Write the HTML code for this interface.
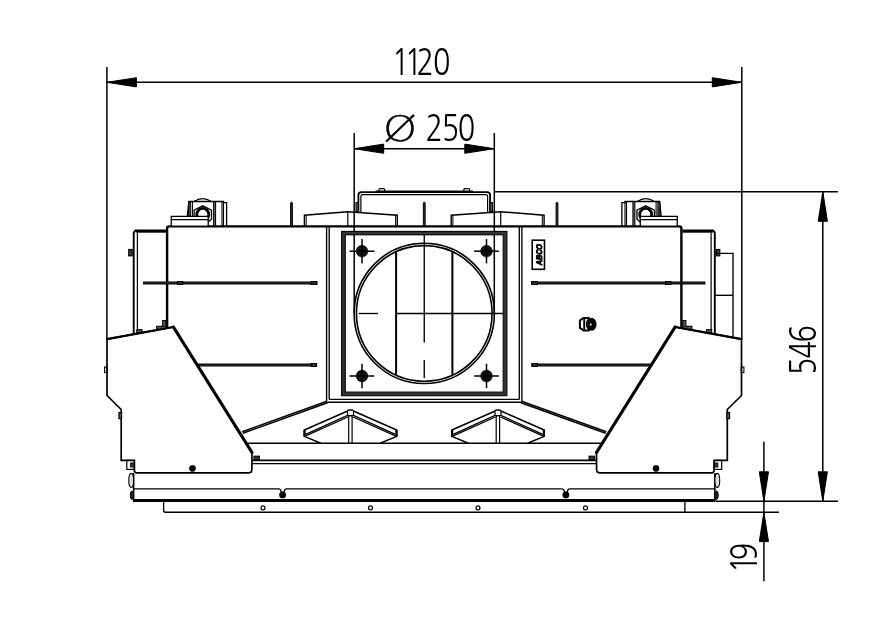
<!DOCTYPE html>
<html lang="en">
<head>
<meta charset="utf-8">
<title>Dimension drawing 1120 x 546</title>
<style>
html,body{margin:0;padding:0;background:#fff;}
body{width:881px;height:620px;overflow:hidden;font-family:"Liberation Sans",sans-serif;}
svg{display:block;filter:grayscale(1);}
svg line, svg path, svg rect, svg circle, svg ellipse{stroke:#000;}
</style>
</head>
<body>
<svg width="881" height="620" viewBox="0 0 881 620" fill="none">
<rect x="0" y="0" width="881" height="620" fill="#fff" style="stroke:none"/>
<g id="dims">
<line x1="106.9" y1="67" x2="106.9" y2="339" stroke-width="1.5" />
<line x1="741.8" y1="67" x2="741.8" y2="339" stroke-width="1.5" />
<line x1="106.9" y1="82.3" x2="741.8" y2="82.3" stroke-width="1.5" />
<path d="M106.9 82.3 L136.4 86.9 L136.4 77.7 Z" fill="#000" stroke="none"/>
<path d="M741.8 82.3 L712.3 77.7 L712.3 86.9 Z" fill="#000" stroke="none"/>
<line x1="354.2" y1="133" x2="354.2" y2="313.5" stroke-width="1.5" />
<line x1="494.3" y1="133" x2="494.3" y2="313.5" stroke-width="1.5" />
<line x1="354.2" y1="148.7" x2="494.3" y2="148.7" stroke-width="1.5" />
<path d="M354.2 148.7 L383.7 153.3 L383.7 144.1 Z" fill="#000" stroke="none"/>
<path d="M494.3 148.7 L464.8 144.1 L464.8 153.3 Z" fill="#000" stroke="none"/>
<line x1="494.3" y1="191.8" x2="838" y2="191.8" stroke-width="1.5" />
<line x1="716" y1="501.3" x2="838" y2="501.3" stroke-width="1.5" />
<line x1="822.8" y1="191.8" x2="822.8" y2="501.3" stroke-width="1.5" />
<path d="M822.8 191.8 L818.2 221.3 L827.4 221.3 Z" fill="#000" stroke="none"/>
<path d="M822.8 501.3 L827.4 471.8 L818.2 471.8 Z" fill="#000" stroke="none"/>
<line x1="685" y1="512.2" x2="779" y2="512.2" stroke-width="1.5" />
<line x1="763.9" y1="441.8" x2="763.9" y2="581.2" stroke-width="1.5" />
<path d="M763.9 501.3 L768.5 471.8 L759.3 471.8 Z" fill="#000" stroke="none"/>
<path d="M763.9 512.2 L759.3 541.6 L768.5 541.6 Z" fill="#000" stroke="none"/>
</g>
<g id="body">
<path d="M167.1 329 L167.1 228.4 Q167.1 226.4 169.1 226.4 L679.4 226.4 Q681.4 226.4 681.4 228.4 L681.4 329" stroke-width="2.4" fill="none"/>
<line x1="326.6" y1="226.3" x2="326.6" y2="401" stroke-width="1.35" />
<line x1="521.9" y1="226.3" x2="521.9" y2="401" stroke-width="1.35" />
<line x1="329.2" y1="226.3" x2="329.2" y2="399.4" stroke-width="1.35" />
<line x1="519.3" y1="226.3" x2="519.3" y2="399.4" stroke-width="1.35" />
<line x1="329.2" y1="399.4" x2="519.3" y2="399.4" stroke-width="1.4" />
<line x1="326.6" y1="402.2" x2="521.9" y2="402.2" stroke-width="1.4" />
<line x1="326.9" y1="401.2" x2="242.2" y2="431.7" stroke-width="1.5" />
<line x1="521.6" y1="401.2" x2="606.3" y2="431.7" stroke-width="1.5" />
<line x1="327.5" y1="402.8" x2="242.8" y2="433.3" stroke-width="1.5" />
<line x1="521.0" y1="402.8" x2="605.7" y2="433.3" stroke-width="1.5" />
<line x1="247.5" y1="443.2" x2="601.0" y2="443.2" stroke-width="1.35" />
<line x1="252" y1="460.4" x2="596.5" y2="460.4" stroke-width="1.8" />
<line x1="252" y1="463.6" x2="596.5" y2="463.6" stroke-width="1.3" />
<rect x="254" y="456.2" width="5.4" height="3.6" rx="0" stroke-width="1.1" fill="#333"/>
<rect x="589.1" y="456.2" width="5.4" height="3.6" rx="0" stroke-width="1.1" fill="#333"/>
<rect x="143.6" y="282.0" width="173.3" height="2.0" rx="0" stroke-width="1.0" fill="#333"/>
<rect x="531.6" y="282.0" width="173.3" height="2.0" rx="0" stroke-width="1.0" fill="#333"/>
<rect x="197.3" y="364.0" width="119.3" height="2.0" rx="0" stroke-width="1.0" fill="#333"/>
<rect x="531.9" y="364.0" width="119.3" height="2.0" rx="0" stroke-width="1.0" fill="#333"/>
<rect x="177.4" y="281.5" width="5.6" height="3.0" rx="0" stroke-width="0.9" fill="#2a2a2a"/>
<rect x="665.5" y="281.5" width="5.6" height="3.0" rx="0" stroke-width="0.9" fill="#2a2a2a"/>
<rect x="311" y="281.5" width="5.9" height="3.0" rx="0" stroke-width="0.9" fill="#2a2a2a"/>
<rect x="531.6" y="281.5" width="5.9" height="3.0" rx="0" stroke-width="0.9" fill="#2a2a2a"/>
<rect x="311" y="363.5" width="5.6" height="3.0" rx="0" stroke-width="0.9" fill="#2a2a2a"/>
<rect x="531.9" y="363.5" width="5.6" height="3.0" rx="0" stroke-width="0.9" fill="#2a2a2a"/>
</g>
<g id="side">
<path d="M133.7 334 L133.7 233 L134.6 231.2 L136.4 230.2" stroke-width="1.9" fill="none" />
<path d="M714.8 334 L714.8 233 L713.9 231.2 L712.1 230.2" stroke-width="1.9" fill="none" />
<line x1="135.8" y1="231.1" x2="166" y2="231.1" stroke-width="3.2" />
<line x1="712.7" y1="231.1" x2="682.5" y2="231.1" stroke-width="3.2" />
<line x1="137.4" y1="333.6" x2="137.4" y2="232.6" stroke-width="1.2" />
<line x1="711.1" y1="333.6" x2="711.1" y2="232.6" stroke-width="1.2" />
<rect x="128.75" y="249.5" width="3.4" height="6.3" rx="0" stroke-width="1.2" fill="#444"/>
<rect x="716.35" y="249.5" width="3.4" height="6.3" rx="0" stroke-width="1.2" fill="#444"/>
<path d="M714.8 253.4 L733 253.4 L733 337.2" stroke-width="1.35" fill="none" />
<line x1="714.8" y1="295.3" x2="733" y2="295.3" stroke-width="1.35" />
</g>
<g id="covers">
<path d="M107 339.1 L173.4 327 L252 452.5 L251.9 470.2 L251.2 472 L249 472.9 L136 472.9 L134.4 471.4 L134.4 460.4 L121.2 460.4 L121.2 409.5 L107 395.5 Z" stroke-width="1.7" fill="#fff" />
<path d="M741.5 339.1 L675.1 327 L596.5 452.5 L596.6 470.2 L597.3 472 L599.5 472.9 L712.5 472.9 L714.1 471.4 L714.1 460.4 L727.3 460.4 L727.3 409.5 L741.5 395.5 Z" stroke-width="1.7" fill="#fff" />
<line x1="173.4" y1="327" x2="252" y2="452.5" stroke-width="3.2" stroke-linecap="round"/>
<line x1="675.1" y1="327" x2="596.5" y2="452.5" stroke-width="3.2" stroke-linecap="round"/>
<line x1="107" y1="339.1" x2="173.4" y2="327" stroke-width="2.2" stroke-linecap="round"/>
<line x1="741.5" y1="339.1" x2="675.1" y2="327" stroke-width="2.2" stroke-linecap="round"/>
<rect x="104.6" y="367" width="2.7" height="5.6" rx="0" stroke-width="1.1" fill="none"/>
<rect x="741.2" y="367" width="2.7" height="5.6" rx="0" stroke-width="1.1" fill="none"/>
<rect x="118.9" y="412.5" width="2.7" height="6.2" rx="0" stroke-width="1.1" fill="#555"/>
<rect x="726.9" y="412.5" width="2.7" height="6.2" rx="0" stroke-width="1.1" fill="#555"/>
<rect x="126.8" y="460.4" width="7.6" height="9" rx="0" stroke-width="1.2" fill="none"/>
<rect x="714.1" y="460.4" width="7.6" height="9" rx="0" stroke-width="1.2" fill="none"/>
<rect x="130.6" y="463" width="2.6" height="4" rx="0" stroke-width="0.9" fill="#444"/>
<rect x="715.3" y="463" width="2.6" height="4" rx="0" stroke-width="0.9" fill="#444"/>
<circle cx="192.5" cy="468.4" r="3.1" stroke-width="0.5" fill="#000"/>
<circle cx="656.0" cy="468.4" r="3.1" stroke-width="0.5" fill="#000"/>
<rect x="136.8" y="329.6" width="5.2" height="2.8" rx="0" stroke-width="1.0" fill="#555"/>
<rect x="706.5" y="329.6" width="5.2" height="2.8" rx="0" stroke-width="1.0" fill="#555"/>
<rect x="156.6" y="326.2" width="5.2" height="2.8" rx="0" stroke-width="1.0" fill="#555"/>
<rect x="686.7" y="326.2" width="5.2" height="2.8" rx="0" stroke-width="1.0" fill="#555"/>
<rect x="162.6" y="320.5" width="3.2" height="6.5" rx="0" stroke-width="1.0" fill="#555"/>
<rect x="682.7" y="320.5" width="3.2" height="6.5" rx="0" stroke-width="1.0" fill="#555"/>
</g>
<g id="base">
<line x1="133.6" y1="472.9" x2="133.6" y2="501" stroke-width="1.6" />
<line x1="714.9" y1="472.9" x2="714.9" y2="501" stroke-width="1.6" />
<path d="M133.6 488.9 L279 488.9 Q280.6 489 281 491 L281.6 492.6 L283.6 492.6 L284.2 491 Q284.6 489 286.2 488.9 L562.3 488.9 Q563.9 489 564.3 491 L564.9 492.6 L566.9 492.6 L567.5 491 Q567.9 489 569.5 488.9 L714.9 488.9" stroke-width="1.35" fill="none"/>
<circle cx="282.6" cy="494.9" r="3.2" stroke-width="0.5" fill="#000"/>
<circle cx="565.9" cy="494.9" r="3.2" stroke-width="0.5" fill="#000"/>
<line x1="133" y1="500.6" x2="715.5" y2="500.6" stroke-width="3.0" />
<ellipse cx="131.2" cy="480.4" rx="2.4" ry="7" stroke-width="1.1" fill="#ddd"/>
<ellipse cx="717.3" cy="480.4" rx="2.4" ry="7" stroke-width="1.1" fill="#ddd"/>
<ellipse cx="132" cy="495.2" rx="1.7" ry="4.2" stroke-width="1" fill="#222"/>
<ellipse cx="716.5" cy="495.2" rx="1.7" ry="4.2" stroke-width="1" fill="#222"/>
<path d="M163.6 501 L163.6 510.2 Q163.6 512.2 165.6 512.2 L684.9 512.2 L684.9 501" stroke-width="1.35" fill="none"/>
<circle cx="263" cy="507.9" r="2.0" stroke-width="1.2" fill="none"/>
<circle cx="370.5" cy="507.9" r="2.0" stroke-width="1.2" fill="none"/>
<circle cx="478" cy="507.9" r="2.0" stroke-width="1.2" fill="none"/>
<circle cx="585.5" cy="507.9" r="2.0" stroke-width="1.2" fill="none"/>
</g>
<g id="frame">
<rect x="343.4" y="233.1" width="161.7" height="160.8" style="stroke:#333" stroke-width="3.4" fill="none"/>
<rect x="341.6" y="231.4" width="165.3" height="164.3" stroke-width="1.1" fill="none"/>
<rect x="345.3" y="234.8" width="157.9" height="157.3" stroke-width="1.1" fill="none"/>
<circle cx="424.25" cy="313.4" r="70.1" stroke-width="1.6" fill="none"/>
<circle cx="424.25" cy="313.4" r="67.8" stroke-width="1.6" fill="none"/>
<line x1="396.1" y1="252" x2="396.1" y2="374.8" stroke-width="2.0" />
<line x1="452.4" y1="252" x2="452.4" y2="374.8" stroke-width="2.0" />
<line x1="424.25" y1="234.8" x2="424.25" y2="342.6" stroke-width="1.35" />
<line x1="424.25" y1="360" x2="424.25" y2="378" stroke-width="1.35" />
<line x1="358.8" y1="313.5" x2="378" y2="313.5" stroke-width="1.35" />
<line x1="396.1" y1="313.5" x2="503.2" y2="313.5" stroke-width="1.35" />
<circle cx="362" cy="251.2" r="5.9" stroke-width="0.5" fill="#111"/>
<line x1="349.6" y1="251.2" x2="374.4" y2="251.2" stroke-width="1.5" />
<line x1="362" y1="239.0" x2="362" y2="263.4" stroke-width="1.5" />
<circle cx="362" cy="376" r="5.9" stroke-width="0.5" fill="#111"/>
<line x1="349.6" y1="376" x2="374.4" y2="376" stroke-width="1.5" />
<line x1="362" y1="363.8" x2="362" y2="388.2" stroke-width="1.5" />
<circle cx="486.5" cy="251.2" r="5.9" stroke-width="0.5" fill="#111"/>
<line x1="474.1" y1="251.2" x2="498.9" y2="251.2" stroke-width="1.5" />
<line x1="486.5" y1="239.0" x2="486.5" y2="263.4" stroke-width="1.5" />
<circle cx="486.5" cy="376" r="5.9" stroke-width="0.5" fill="#111"/>
<line x1="474.1" y1="376" x2="498.9" y2="376" stroke-width="1.5" />
<line x1="486.5" y1="363.8" x2="486.5" y2="388.2" stroke-width="1.5" />
</g>
<g id="top">
<path d="M358.4 212 L358.4 195.2 Q358.4 192.1 361.5 192.1 L487.0 192.1 Q490.1 192.1 490.1 195.2 L490.1 212" stroke-width="1.8" fill="none"/>
<path d="M360.9 212 L360.9 196.6 Q360.9 194.7 362.8 194.7 L485.7 194.7 Q487.6 194.7 487.6 196.6 L487.6 212" stroke-width="1.2" fill="none"/>
<line x1="375.6" y1="191.3" x2="472.9" y2="191.3" stroke-width="1.6" />
<rect x="378.9" y="188.6" width="5.8" height="3.2" rx="1.2" stroke-width="1.2" fill="none"/>
<rect x="463.8" y="188.6" width="5.8" height="3.2" rx="1.2" stroke-width="1.2" fill="none"/>
<rect x="356" y="202.5" width="2.4" height="9.5" rx="0" stroke-width="1.0" fill="#555"/>
<rect x="490.1" y="202.5" width="2.4" height="9.5" rx="0" stroke-width="1.0" fill="#555"/>
<path d="M304.4 226 L304.4 215.2 L347.8 211.7 L397.3 215.2 L397.3 226" stroke-width="1.4" fill="none" />
<path d="M544.1 226 L544.1 215.2 L500.7 211.7 L451.2 215.2 L451.2 226" stroke-width="1.4" fill="none" />
<line x1="306.2" y1="226" x2="306.2" y2="215.4" stroke-width="1.0" />
<line x1="542.3" y1="226" x2="542.3" y2="215.4" stroke-width="1.0" />
<line x1="395.6" y1="226" x2="395.6" y2="215.4" stroke-width="1.0" />
<line x1="452.9" y1="226" x2="452.9" y2="215.4" stroke-width="1.0" />
<line x1="347.8" y1="211.7" x2="347.8" y2="226" stroke-width="1.2" />
<line x1="500.7" y1="211.7" x2="500.7" y2="226" stroke-width="1.2" />
<rect x="290.6" y="202.3" width="1.8" height="24" rx="0.8" stroke-width="1.0" fill="#333"/>
<rect x="423.35" y="202.3" width="1.8" height="24" rx="0.8" stroke-width="1.0" fill="#333"/>
<rect x="556.1" y="202.3" width="1.8" height="24" rx="0.8" stroke-width="1.0" fill="#333"/>
</g>
<g id="lugs">
<path d="M187.3 216.4 L188.9 201.5 L223.5 201.5 L223.5 202.6 L226.6 202.6 L226.6 226" stroke-width="1.3" fill="none"/>
<line x1="188.9" y1="201.5" x2="188.9" y2="216.4" stroke-width="1.1" />
<rect x="188.6" y="202.2" width="2.1" height="14" fill="#444" stroke-width="0.8"/>
<line x1="192.4" y1="201.5" x2="192.4" y2="216.4" stroke-width="1.1" />
<rect x="213.6" y="201.5" width="2.0" height="24.5" fill="#666" stroke-width="1"/>
<line x1="222" y1="201.5" x2="222" y2="226" stroke-width="1.1" />
<line x1="223.5" y1="201.5" x2="223.5" y2="226" stroke-width="1.1" />
<path d="M194 201.5 Q202.65 195.9 211.3 201.5" stroke-width="1.2" fill="none"/>
<path d="M202.8 205.8 L211.5 210.2 L211.5 219 L207.8 222.5 L194.1 222.5 L194.1 210.2 Z" stroke-width="1.3" fill="#fff"/>
<circle cx="202.8" cy="214.4" r="6" stroke-width="2.8" fill="#fff"/>
<rect x="171.25" y="216.4" width="36.95" height="9.8" fill="#fff" stroke-width="1.3"/>
<line x1="171.25" y1="219.6" x2="208.2" y2="219.6" stroke-width="1.1" />
<path d="M661.2 216.4 L659.6 201.5 L625.0 201.5 L625.0 202.6 L621.9 202.6 L621.9 226" stroke-width="1.3" fill="none"/>
<line x1="659.6" y1="201.5" x2="659.6" y2="216.4" stroke-width="1.1" />
<rect x="657.8" y="202.2" width="2.1" height="14" fill="#444" stroke-width="0.8"/>
<line x1="656.1" y1="201.5" x2="656.1" y2="216.4" stroke-width="1.1" />
<rect x="632.9" y="201.5" width="2.0" height="24.5" fill="#666" stroke-width="1"/>
<line x1="626.5" y1="201.5" x2="626.5" y2="226" stroke-width="1.1" />
<line x1="625.0" y1="201.5" x2="625.0" y2="226" stroke-width="1.1" />
<path d="M654.5 201.5 Q645.85 195.9 637.2 201.5" stroke-width="1.2" fill="none"/>
<path d="M645.7 205.8 L637.0 210.2 L637.0 219 L640.7 222.5 L654.4 222.5 L654.4 210.2 Z" stroke-width="1.3" fill="#fff"/>
<circle cx="645.7" cy="214.4" r="6" stroke-width="2.8" fill="#fff"/>
<rect x="640.3" y="216.4" width="36.95" height="9.8" fill="#fff" stroke-width="1.3"/>
<line x1="677.25" y1="219.6" x2="640.3" y2="219.6" stroke-width="1.1" />
</g>
<g id="vents">
<path d="M320.9 443.2 L304.3 436.4 L304.3 430 L347.1 411.2 Q350.5 409.3 353.9 411.2 L396.7 430 L396.7 436.4 L380.1 443.2" stroke-width="1.5" stroke-linejoin="round" fill="none"/>
<path d="M304.6 430.6 L304.6 436 M396.4 430.6 L396.4 436" stroke-width="2.3" stroke-linecap="round" fill="none"/>
<path d="M305.7 434.3 L347.5 415.5 L353.5 415.5 L395.3 434.3" stroke-width="1.3" fill="none"/>
<path d="M305.7 435.9 L347.9 417 M353.1 417 L395.3 435.9" stroke-width="1.3" fill="none"/>
<rect x="347.5" y="410.2" width="6" height="5.4" rx="1" stroke-width="1.2" fill="#fff"/>
<line x1="348.7" y1="415.6" x2="348.7" y2="443.2" stroke-width="1.2"/>
<line x1="352.1" y1="415.6" x2="352.1" y2="443.2" stroke-width="1.2"/>
<path d="M468.4 443.2 L451.8 436.4 L451.8 430 L494.6 411.2 Q498.0 409.3 501.4 411.2 L544.2 430 L544.2 436.4 L527.6 443.2" stroke-width="1.5" stroke-linejoin="round" fill="none"/>
<path d="M452.1 430.6 L452.1 436 M543.9 430.6 L543.9 436" stroke-width="2.3" stroke-linecap="round" fill="none"/>
<path d="M453.2 434.3 L495.0 415.5 L501.0 415.5 L542.8 434.3" stroke-width="1.3" fill="none"/>
<path d="M453.2 435.9 L495.4 417 M500.6 417 L542.8 435.9" stroke-width="1.3" fill="none"/>
<rect x="495.0" y="410.2" width="6" height="5.4" rx="1" stroke-width="1.2" fill="#fff"/>
<line x1="496.2" y1="415.6" x2="496.2" y2="443.2" stroke-width="1.2"/>
<line x1="499.6" y1="415.6" x2="499.6" y2="443.2" stroke-width="1.2"/>
</g>
<g id="misc">
<rect x="532.2" y="240.2" width="12.3" height="29.1" rx="0" stroke-width="1.6" fill="none"/>
<text transform="translate(541.7,265.5) rotate(-90) skewX(-8)" font-family="'Liberation Sans', sans-serif" font-weight="bold" font-size="8.2" textLength="21.2" lengthAdjust="spacingAndGlyphs" fill="#000" stroke="#000" stroke-width="0.9" style="stroke:#000">ABCO</text>
<path d="M579.9 320.5 L583.6 317.9 L589 317.9 L589 330.5 L583.6 330.5 L579.9 327.9 Z" stroke-width="2" stroke-linejoin="round" fill="#fff"/>
<path d="M584.2 318.6 L584.2 329.8" stroke-width="1.9"/>
<path d="M588.6 319 Q584.6 324.3 588.6 329.5" stroke-width="1.7" fill="none"/>
<ellipse cx="591.9" cy="324.3" rx="4.4" ry="6.2" fill="#000" stroke-width="0.5"/>
<circle cx="590.7" cy="324.4" r="1" fill="#fff" style="stroke:none"/>
</g>
<g id="labels">
<text transform="translate(0,74.6) scale(0.8,1)" x="490.0 505.81 520.56 541.19" y="0" font-family="NanumGothic, 'Liberation Sans', sans-serif" font-size="36" fill="#000" stroke="none">1120</text>
<text transform="translate(0,141.4) scale(0.8,1)" x="531.94 552.19 572.25" y="0" font-family="NanumGothic, 'Liberation Sans', sans-serif" font-size="36" fill="#000" stroke="none">250</text>
<text transform="translate(400,141.3) scale(1.2,1)" font-family="'DejaVu Sans Light', 'DejaVu Sans', sans-serif" font-size="36" text-anchor="middle" fill="#000" stroke="#000" stroke-width="0.4">Ø</text>
<text transform="translate(815.5,380) rotate(-90) scale(0.8,1)" x="6.19 26.88 46.94" y="0" font-family="NanumGothic, 'Liberation Sans', sans-serif" font-size="36" fill="#000" stroke="none">546</text>
<text transform="translate(756.6,575) rotate(-90) scale(0.8,1)" x="2.5 18.31" y="0" font-family="NanumGothic, 'Liberation Sans', sans-serif" font-size="36" fill="#000" stroke="none">19</text>
</g>
</svg>
</body>
</html>
